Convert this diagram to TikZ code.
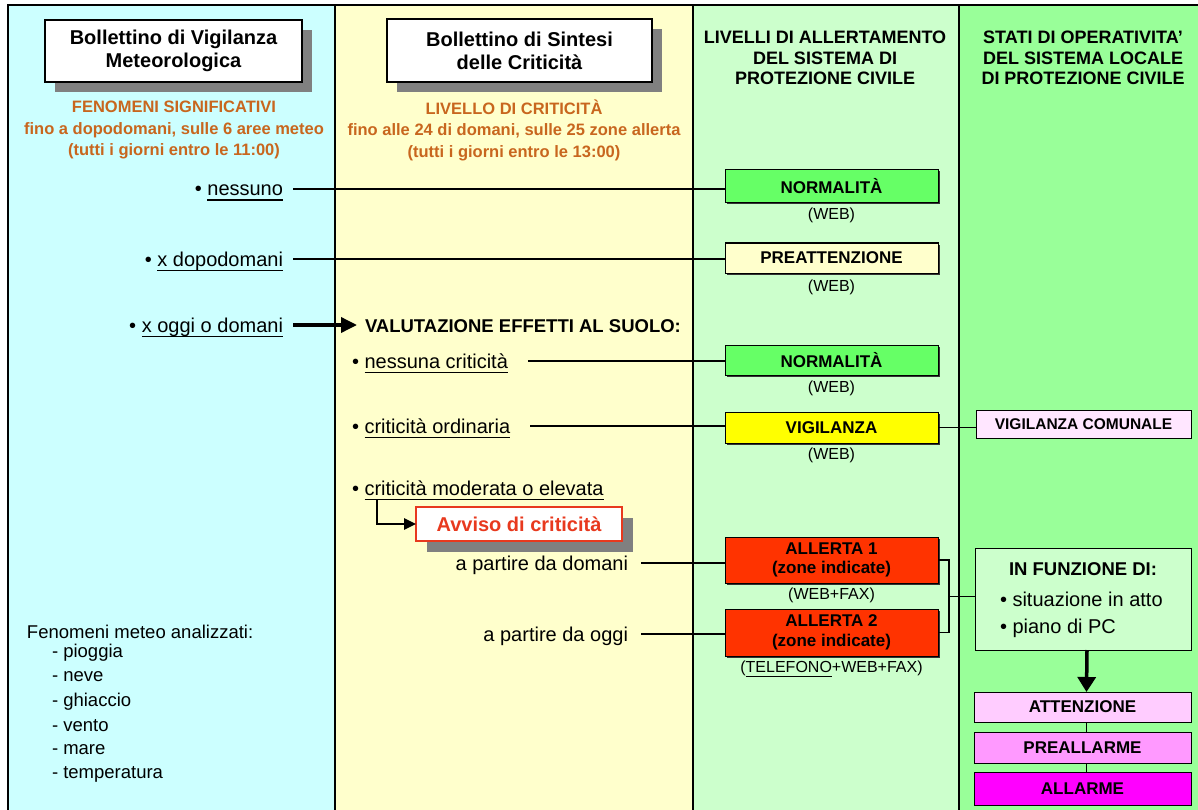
\documentclass[tikz,border=0pt]{standalone}
\usepackage{fontspec}
\setmainfont{Liberation Sans}
\usetikzlibrary{shadows,arrows.meta,calc}
\definecolor{cA}{HTML}{CCFFFF}
\definecolor{cB}{HTML}{FFFFCC}
\definecolor{cC}{HTML}{CCFFCC}
\definecolor{cD}{HTML}{99FF99}
\definecolor{orng}{HTML}{C8661E}
\definecolor{normg}{HTML}{66FF66}
\definecolor{vigy}{HTML}{FFFF00}
\definecolor{allr}{HTML}{FF3300}
\definecolor{vcp}{HTML}{FFE6FF}
\definecolor{attp}{HTML}{FFCCFF}
\definecolor{prep}{HTML}{FF99FF}
\definecolor{allm}{HTML}{FF00FF}
\definecolor{shg}{HTML}{808080}
\definecolor{avred}{HTML}{E8391E}
\newcommand\ulx[1]{\setbox0\hbox{#1}\rlap{\rule[-5pt]{\wd0}{1.5pt}}\box0}
\newcommand\fsz[2]{\fontsize{#1}{#2}\selectfont}
\begin{document}
\begin{tikzpicture}[x=1pt,y=-1pt,
  every node/.style={inner sep=0pt, outer sep=0pt},
  hdrbox/.style={draw=black, line width=1.6pt, fill=white, align=center,
    font=\bfseries\fsz{20}{23}, anchor=north west,
    drop shadow={shadow xshift=10pt, shadow yshift=-10pt, opacity=1, fill=shg}},
  orangetxt/.style={align=center, text=orng, font=\bfseries\fsz{16.5}{21.5}},
  coltitle/.style={align=center, font=\bfseries\fsz{18}{20.5}},
  item/.style={font=\fsz{20}{24}, text height=19pt, text depth=5pt},
  lvbox/.style={draw=black, line width=1pt, minimum width=213pt, align=center,
    anchor=north west, font=\bfseries\fsz{17}{19.5},
    drop shadow={shadow xshift=1.5pt, shadow yshift=-1.5pt, opacity=1, fill=black!80}},
  sublab/.style={font=\fsz{16}{18}},
  stbox/.style={draw=black, line width=1pt, minimum width=217pt, anchor=north west,
    font=\bfseries\fsz{17}{19.5}},
  conn/.style={line width=1.1pt},
  fatarrow/.style={line width=3.5pt, -{Triangle[length=16pt,width=15pt]}},
  elbowarrow/.style={line width=2.5pt, -{Triangle[length=12pt,width=11pt]}},
  listtxt/.style={font=\fsz{18.5}{22}, anchor=west}
]
\useasboundingbox (0,0) rectangle (1198,810);
% columns
\fill[cA] (8,5) rectangle (335,810);
\fill[cB] (335,5) rectangle (693,810);
\fill[cC] (693,5) rectangle (959,810);
\fill[cD] (959,5) rectangle (1198,810);
\draw[line width=1.5pt] (8,810) -- (8,5) -- (1198,5);
\draw[line width=1.5pt] (335,5) -- (335,810);
\draw[line width=1.5pt] (693,5) -- (693,810);
\draw[line width=1.5pt] (959,5) -- (959,810);

% headers
\node[hdrbox, minimum width=257pt, minimum height=62pt] (hdrA) at (45,20) {Bollettino di Vigilanza\\Meteorologica};
\node[hdrbox, minimum width=265pt, minimum height=63pt] (hdrB) at (387,19) {Bollettino di Sintesi\\delle Criticità};
\node[orangetxt] (orA) at (174,130) {FENOMENI SIGNIFICATIVI\\fino a dopodomani, sulle 6 aree meteo\\(tutti i giorni entro le 11:00)};
\node[orangetxt] (orB) at (514,130) {LIVELLO DI CRITICITÀ\\fino alle 24 di domani, sulle 25 zone allerta\\(tutti i giorni entro le 13:00)};
\node[coltitle] (hdrC) at (825,58) {LIVELLI DI ALLERTAMENTO\\DEL SISTEMA DI\\PROTEZIONE CIVILE};
\node[coltitle] (hdrD) at (1083,58) {STATI DI OPERATIVITA'\\DEL SISTEMA LOCALE\\DI PROTEZIONE CIVILE};

% column 3 boxes
\node[lvbox, fill=normg, minimum height=33pt] (norA) at (725,170) {NORMALITÀ};
\node[sublab] (webA) at (831.5,215) {(WEB)};
\node[lvbox, fill=cB, minimum height=30pt] (prea) at (725,243) {PREATTENZIONE};
\node[sublab] (webB) at (831.5,287) {(WEB)};
\node[lvbox, fill=normg, minimum height=30pt] (norB) at (725,345) {NORMALITÀ};
\node[sublab] (webC) at (831.5,388) {(WEB)};
\node[lvbox, fill=vigy, minimum height=31pt] (vig) at (725,412) {VIGILANZA};
\node[sublab] (webD) at (831.5,455) {(WEB)};
\node[lvbox, fill=allr, minimum height=46pt] (alA) at (725,537) {ALLERTA 1\\(zone indicate)};
\node[sublab] (wfA) at (831.5,595) {(WEB+FAX)};
\node[lvbox, fill=allr, minimum height=47pt] (alB) at (725,609) {ALLERTA 2\\(zone indicate)};
\node[sublab] (wfB) at (831.5,669) {(\ulx{TELEFONO}+WEB+FAX)};

% column 1 items
\node[item, anchor=east] (itA) at (283,189) {• \ulx{nessuno}};
\node[item, anchor=east] (itB) at (283,259) {• \ulx{x dopodomani}};
\node[item, anchor=east] (itC) at (283,325) {• \ulx{x oggi o domani}};
\node[anchor=west, font=\bfseries\fsz{18.5}{22}] (valut) at (365,326) {VALUTAZIONE EFFETTI AL SUOLO:};

% column 2 items
\node[item, anchor=west] (itD) at (352,361) {• \ulx{nessuna criticità}};
\node[item, anchor=west] (itE) at (352,426) {• \ulx{criticità ordinaria}};
\node[item, anchor=west] (itF) at (352,488) {• \ulx{criticità moderata o elevata}};
\node[draw=avred, line width=1.5pt, fill=white, anchor=north west, minimum width=206pt, minimum height=34pt,
  text=avred, font=\bfseries\fsz{20}{24},
  drop shadow={shadow xshift=11pt, shadow yshift=-11pt, opacity=1, fill=shg}] (avv) at (416,507) {Avviso di criticità};
\node[item, anchor=east] (itG) at (628,563) {a partire da domani};
\node[item, anchor=east] (itH) at (628,634) {a partire da oggi};

% column 4
\node[stbox, fill=vcp, minimum width=215pt, minimum height=28pt, font=\bfseries\fsz{15.5}{18}] (vcom) at (976,410) {VIGILANZA COMUNALE};
\node[draw=black, line width=1pt, fill=cC, anchor=north west, minimum width=216pt, minimum height=102pt] (inf) at (975,548) {};
\node[font=\bfseries\fsz{18.5}{22}] (infT) at (1083,569) {IN FUNZIONE DI:};
\node[font=\fsz{20}{24}, anchor=west] (infA) at (1000,599) {• situazione in atto};
\node[font=\fsz{20}{24}, anchor=west] (infB) at (1000,628) {• piano di PC};
\node[stbox, fill=attp, minimum height=30pt] (att) at (974,692) {ATTENZIONE};
\node[stbox, fill=prep, minimum height=31pt] (pall) at (974,732) {PREALLARME};
\node[stbox, fill=allm, minimum height=33pt] (allarm) at (974,772) {ALLARME};

% bottom-left list
\node[listtxt] (mh) at (27,632) {Fenomeni meteo analizzati:};
\foreach \t [count=\i] in {pioggia,neve,ghiaccio,vento,mare,temperatura}
  \node[listtxt] (m\i) at (52,{628.5+24.3*\i}) {- \t};

% connectors
\draw[conn, shorten <=10pt] (itA.east) -- (itA.east -| norA.west);
\draw[conn, shorten <=10pt] (itB.east) -- (itB.east -| prea.west);
\draw[fatarrow, shorten <=10pt, shorten >=8pt] (itC.east) -- (itC.east -| valut.west);
\draw[conn, shorten <=20pt] (itD.east) -- (itD.east -| norB.west);
\draw[conn, shorten <=20pt] (itE.east) -- (itE.east -| vig.west);
\draw[elbowarrow] ($(itF.south west)+(25,0)$) |- (avv.west);
\draw[conn, shorten <=13pt] (itG.east) -- (itG.east -| alA.west);
\draw[conn, shorten <=13pt] (itH.east) -- (itH.east -| alB.west);
\draw[conn] (vig.east) -- (vig.east -| vcom.west);
\draw[conn] (alA.east) -- ++(11,0) |- (alB.east);
\coordinate (brk) at ($(alA.east)!0.5!(alB.east)+(11,0)$);
\draw[conn] (brk) -- (brk -| inf.west);
\draw[line width=3.5pt, -{Triangle[length=15pt,width=18pt]}] ($(inf.south)+(4,0)$) -- ($(att.north)+(4,0)$);
\draw[conn] ($(att.south)+(4,0)$) -- ($(pall.north)+(4,0)$);
\draw[conn] ($(pall.south)+(4,0)$) -- ($(allarm.north)+(4,0)$);
\end{tikzpicture}
\end{document}
